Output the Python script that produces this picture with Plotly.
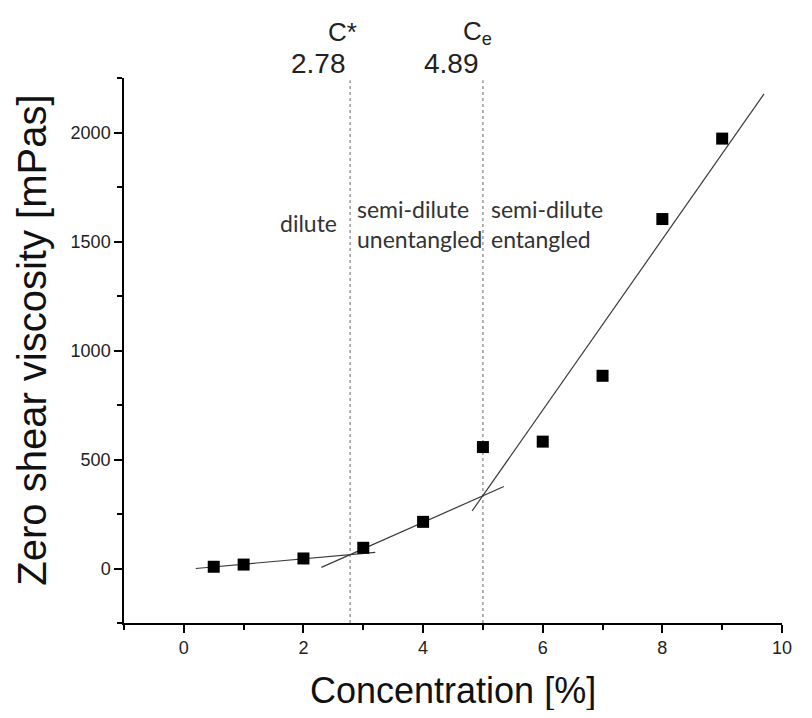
import plotly.graph_objects as go

# ---- data ----
concentration = [0.5, 1, 2, 3, 4, 5, 6, 7, 8, 9]
viscosity = [8, 18, 46, 95, 214, 557, 582, 884, 1603, 1972]

# fitted line segments (endpoints)
fit_dilute_x = [0.2, 3.2]
fit_dilute_y = [0, 74]
fit_unent_x = [2.3, 5.35]
fit_unent_y = [5, 376]
fit_ent_x = [4.82, 9.7]
fit_ent_y = [264, 2177]

crit_names = ["C*", "C<sub>e</sub>"]
crit_labels = ["2.78", "4.89"]
crit_line_x = [2.78, 5.0]

region_texts = ["dilute", "semi-dilute<br>unentangled", "semi-dilute<br>entangled"]

x_tickvals = [0, 2, 4, 6, 8, 10]
y_tickvals = [0, 500, 1000, 1500, 2000]

FONT = "Liberation Sans, Arial, sans-serif"
LFONT = "Lato, Open Sans, sans-serif"

fig = go.Figure()

line_style = dict(color="#3a3a3a", width=1.2)
for fx, fy in [(fit_dilute_x, fit_dilute_y), (fit_unent_x, fit_unent_y), (fit_ent_x, fit_ent_y)]:
    fig.add_trace(go.Scatter(x=fx, y=fy, mode="lines", line=line_style,
                             showlegend=False, hoverinfo="skip"))

fig.add_trace(go.Scatter(
    x=concentration, y=viscosity, mode="markers",
    marker=dict(symbol="square", size=12, color="black", line=dict(width=0)),
    showlegend=False))

# vertical dotted lines
for xv in crit_line_x:
    fig.add_shape(type="line", xref="x", yref="paper", x0=xv, x1=xv, y0=0, y1=0.996,
                  line=dict(color="#808080", width=1.2, dash="dot"), layer="below")

# top labels
name_shift = [-8, -5]
for xv, nm, lb, sh in zip(crit_line_x, crit_names, crit_labels, name_shift):
    fig.add_annotation(x=xv, y=1.084, xref="x", yref="paper", text=nm, showarrow=False,
                       xanchor="center", yanchor="middle", xshift=sh,
                       font=dict(family=FONT, size=26, color="#222"))
    fig.add_annotation(x=xv, y=1.026, xref="x", yref="paper", text=lb, showarrow=False,
                       xanchor="right", yanchor="middle", xshift=-2,
                       font=dict(family=FONT, size=28, color="#222"))

# region labels
fig.add_annotation(x=2.08, y=1585, xref="x", yref="y", text=region_texts[0], showarrow=False,
                   xanchor="center", yanchor="middle",
                   font=dict(family=LFONT, size=23, color="#333"))
fig.add_annotation(x=crit_line_x[0], y=1580, xref="x", yref="y", text=region_texts[1], showarrow=False,
                   xanchor="left", yanchor="middle", align="left", xshift=5,
                   font=dict(family=LFONT, size=23, color="#333"))
fig.add_annotation(x=crit_line_x[1], y=1580, xref="x", yref="y", text=region_texts[2], showarrow=False,
                   xanchor="left", yanchor="middle", align="left", xshift=6,
                   font=dict(family=LFONT, size=23, color="#333"))

# axis titles
fig.add_annotation(x=-0.139, y=0.519, xref="paper", yref="paper",
                   text="Zero shear viscosity [mPas]", textangle=-90, showarrow=False,
                   xanchor="center", yanchor="middle",
                   font=dict(family=FONT, size=40, color="#111"))
fig.add_annotation(x=0.5, y=-0.124, xref="paper", yref="paper",
                   text="Concentration [%]", showarrow=False,
                   xanchor="center", yanchor="middle",
                   font=dict(family=FONT, size=36, color="#111"))

axis_common = dict(showline=True, linecolor="black", linewidth=1.5, ticks="outside",
                   ticklen=8, tickwidth=1.5, tickcolor="black", showgrid=False, zeroline=False,
                   mirror=False, tickfont=dict(family=FONT, size=18, color="#222"))

fig.update_xaxes(range=[-1, 10], tickvals=x_tickvals, ticklabeloverflow="allow",
                 minor=dict(dtick=1, tick0=-1, ticks="outside", ticklen=5, tickwidth=1.5,
                            tickcolor="black", showgrid=False),
                 **axis_common)
fig.update_yaxes(range=[-250, 2250], tickvals=y_tickvals,
                 minor=dict(dtick=250, tick0=-250, ticks="outside", ticklen=5, tickwidth=1.5,
                            tickcolor="black", showgrid=False),
                 **axis_common)

fig.update_layout(width=796, height=702, margin=dict(l=116, r=14, t=70, b=87),
                  plot_bgcolor="white", paper_bgcolor="white", showlegend=False)

fig.write_html("out.html")
